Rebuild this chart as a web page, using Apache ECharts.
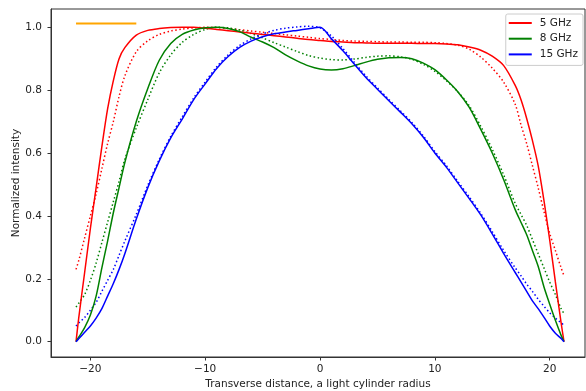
<!DOCTYPE html>
<html>
<head>
<meta charset="utf-8">
<script src="https://cdn.jsdelivr.net/npm/echarts@6/dist/echarts.min.js"></script>
<style>
  html, body { margin: 0; padding: 0; background: #fff; }
  #chart { width: 586px; height: 391px; }
</style>
</head>
<body>
<div id="chart"></div>
<script>
// transverse distance (light cylinder radius)
const distance = [-21.25, -21, -20.5, -20, -19.5, -19, -18.5, -18, -17.5, -17, -16, -15, -14, -13, -12, -11, -10, -9, -8, -7, -6, -5, -4, -3, -2, -1,
  0, 1, 2, 3, 4, 5, 6, 7, 8, 9, 10, 11, 12, 13, 14, 15, 16, 17, 17.5, 18, 18.5, 19, 19.5, 20, 20.5, 21, 21.25];

// observed (solid)
const obs5 = [0, 0.08, 0.22, 0.36, 0.49, 0.62, 0.74, 0.83, 0.9, 0.935, 0.975, 0.99, 0.996, 0.999, 1.0, 1.0, 0.997, 0.993, 0.989, 0.985, 0.981, 0.977, 0.973, 0.969, 0.965, 0.961,
  0.958, 0.955, 0.953, 0.951, 0.95, 0.949, 0.949, 0.949, 0.949, 0.948, 0.948, 0.947, 0.944, 0.937, 0.927, 0.908, 0.878, 0.815, 0.77, 0.71, 0.64, 0.56, 0.45, 0.325, 0.19, 0.06, 0];
const obs8 = [0, 0.015, 0.045, 0.085, 0.145, 0.235, 0.32, 0.41, 0.49, 0.57, 0.7, 0.805, 0.895, 0.948, 0.977, 0.991, 0.998, 1.0, 0.996, 0.986, 0.968, 0.953, 0.935, 0.912, 0.893, 0.877,
  0.867, 0.864, 0.868, 0.878, 0.889, 0.898, 0.903, 0.904, 0.9, 0.886, 0.865, 0.833, 0.795, 0.745, 0.675, 0.6, 0.515, 0.42, 0.38, 0.34, 0.29, 0.24, 0.175, 0.12, 0.068, 0.02, 0];
const obs15 = [0, 0.01, 0.03, 0.05, 0.075, 0.105, 0.145, 0.185, 0.23, 0.28, 0.39, 0.49, 0.575, 0.648, 0.708, 0.77, 0.82, 0.869, 0.907, 0.936, 0.956, 0.97, 0.979, 0.985, 0.99, 0.995,
  1.0, 0.963, 0.925, 0.882, 0.84, 0.803, 0.766, 0.73, 0.693, 0.65, 0.6, 0.555, 0.505, 0.455, 0.403, 0.343, 0.28, 0.22, 0.19, 0.16, 0.13, 0.105, 0.078, 0.05, 0.027, 0.01, 0];

// model (dotted)
const mod5 = [0.23, 0.26, 0.33, 0.4, 0.47, 0.55, 0.63, 0.7, 0.78, 0.845, 0.922, 0.957, 0.977, 0.988, 0.994, 0.998, 1.0, 0.999, 0.996, 0.992, 0.988, 0.984, 0.98, 0.976, 0.972, 0.968,
  0.964, 0.961, 0.958, 0.956, 0.955, 0.954, 0.953, 0.953, 0.952, 0.952, 0.951, 0.948, 0.943, 0.93, 0.905, 0.87, 0.825, 0.755, 0.69, 0.63, 0.56, 0.49, 0.415, 0.345, 0.29, 0.235, 0.21];
const mod8 = [0.11, 0.123, 0.15, 0.195, 0.25, 0.315, 0.38, 0.445, 0.51, 0.58, 0.68, 0.77, 0.855, 0.912, 0.952, 0.977, 0.993, 1.0, 0.998, 0.991, 0.98, 0.966, 0.951, 0.937, 0.923, 0.91,
  0.902, 0.897, 0.896, 0.899, 0.904, 0.908, 0.909, 0.906, 0.898, 0.882, 0.86, 0.83, 0.795, 0.75, 0.685, 0.612, 0.53, 0.44, 0.405, 0.37, 0.325, 0.28, 0.235, 0.19, 0.15, 0.105, 0.09];
const mod15 = [0.05, 0.06, 0.077, 0.1, 0.125, 0.16, 0.195, 0.23, 0.275, 0.32, 0.405, 0.497, 0.58, 0.653, 0.715, 0.775, 0.826, 0.874, 0.912, 0.942, 0.963, 0.979, 0.99, 0.997, 1.001, 1.003,
  0.998, 0.972, 0.932, 0.888, 0.845, 0.807, 0.77, 0.734, 0.697, 0.654, 0.605, 0.56, 0.51, 0.46, 0.408, 0.35, 0.29, 0.235, 0.21, 0.183, 0.16, 0.135, 0.113, 0.092, 0.075, 0.06, 0.052];

// orange bar top-left
const barX = [-21.25, -16];
const barY = [1.012, 1.012];

const xTicks = [-20, -10, 0, 10, 20];
const yTicks = [0, 0.2, 0.4, 0.6, 0.8, 1.0];
const names = ['5 GHz', '8 GHz', '15 GHz'];

const FONT = 'DejaVu Sans';
const pairs = (xs, ys) => xs.map((x, i) => [x, ys[i]]);

const chart = echarts.init(document.getElementById('chart'), null, { renderer: 'canvas' });

function curve(name, color, ys, dotted) {
  return {
    name: name, type: 'line', data: pairs(distance, ys),
    smooth: 0.3, symbol: 'none',
    lineStyle: { color: color, width: 1.5, type: dotted ? [1.5, 2.5] : 'solid' },
    itemStyle: { color: color },
    z: dotted ? 2 : 3
  };
}

const axisText = { fontFamily: FONT, fontSize: 10.5, color: '#222' };

const option = {
  animation: false,
  backgroundColor: '#fff',
  textStyle: { fontFamily: FONT },
  grid: {
    left: 51, right: 1, top: 9, bottom: 34, outerBoundsMode: 'none', containLabel: false,
    show: true, borderColor: '#333', borderWidth: 1
  },
  legend: {
    data: names, orient: 'vertical', right: 3, top: 14,
    icon: 'rect', itemWidth: 23, itemHeight: 2, itemGap: 3.7,
    padding: [3, 5, 5, 3],
    backgroundColor: 'rgba(255,255,255,0.8)', borderColor: '#cccccc', borderWidth: 1, borderRadius: 2,
    textStyle: { fontFamily: FONT, fontSize: 10.5, color: '#222', lineHeight: 12, padding: [0, 0, 0, 3] }
  },
  xAxis: {
    type: 'value', min: -23.43, max: 23.08,
    name: 'Transverse distance, a light cylinder radius', nameLocation: 'middle', nameGap: 22, nameMoveOverlap: false,
    nameTextStyle: axisText,
    axisLine: { show: true, onZero: false, lineStyle: { color: '#333', width: 1 } },
    splitLine: { show: false },
    axisTick: { show: true, inside: false, length: 3.5, lineStyle: { color: '#333' }, customValues: xTicks },
    axisLabel: Object.assign({
      customValues: xTicks, margin: 7,
      formatter: v => String(v).replace('-', '\u2212')
    }, axisText)
  },
  yAxis: {
    type: 'value', min: -0.0487, max: 1.058,
    name: 'Normalized intensity', nameLocation: 'middle', nameGap: 29, nameMoveOverlap: false,
    nameTextStyle: axisText,
    axisLine: { show: true, onZero: false, lineStyle: { color: '#333', width: 1 } },
    splitLine: { show: false },
    axisTick: { show: true, inside: false, length: 3.5, lineStyle: { color: '#333' }, customValues: yTicks },
    axisLabel: Object.assign({
      customValues: yTicks, margin: 9,
      formatter: v => v.toFixed(1)
    }, axisText)
  },
  series: [
    curve('5 GHz', '#ff0000', obs5, false),
    curve('5 GHz model', '#ff0000', mod5, true),
    curve('8 GHz', '#008000', obs8, false),
    curve('8 GHz model', '#008000', mod8, true),
    curve('15 GHz', '#0000ff', obs15, false),
    curve('15 GHz model', '#0000ff', mod15, true),
    {
      name: 'bar', type: 'line', data: pairs(barX, barY), symbol: 'none',
      lineStyle: { color: '#ffa500', width: 2 }, z: 4
    }
  ]
};

chart.setOption(option);
</script>
</body>
</html>
